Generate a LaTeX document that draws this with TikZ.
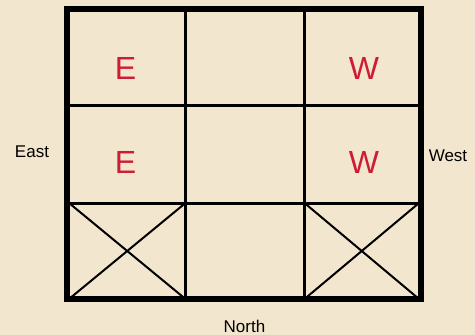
\documentclass[tikz,border=0pt]{standalone}
\usepackage{fontspec}
\setmainfont{Liberation Sans}
\definecolor{parch}{RGB}{242,230,206}
\definecolor{mark}{RGB}{205,28,52}
\begin{document}
\begin{tikzpicture}[x=1pt,y=-1pt,
  frame/.style={line width=6.5pt,line join=miter},
  grid/.style={line width=3pt},
  crossline/.style={line width=2pt},
  letter/.style={text=mark,font=\fontsize{32}{32}\selectfont,inner sep=0pt},
  dirlabel/.style={font=\fontsize{17}{17}\selectfont,inner sep=0pt}]
\fill[parch] (0,0) rectangle (475,335);
\useasboundingbox (0,0) rectangle (475,335);
% grid lines
\draw[grid] (185.5,9) -- (185.5,299);
\draw[grid] (304.5,9) -- (304.5,299);
\draw[grid] (67,105.5) -- (421,105.5);
\draw[grid] (67,203) -- (421,203);
% crosses
\draw[crossline] (69,203) -- (185.5,299) (185.5,203) -- (69,299);
\draw[crossline] (304.5,203) -- (419,299) (419,203) -- (304.5,299);
% frame
\draw[frame] (67,9) rectangle (421,299);
% letters
\node[letter] (e1) at (125.5,68) {E};
\node[letter] (w1) at (364,68) {W};
\node[letter] (e2) at (125.5,162) {E};
\node[letter] (w2) at (364,162) {W};
% labels
\node[dirlabel] (east) at (32,152) {East};
\node[dirlabel] (west) at (448,156) {West};
\node[dirlabel] (north) at (244.5,326) {North};
\end{tikzpicture}
\end{document}
